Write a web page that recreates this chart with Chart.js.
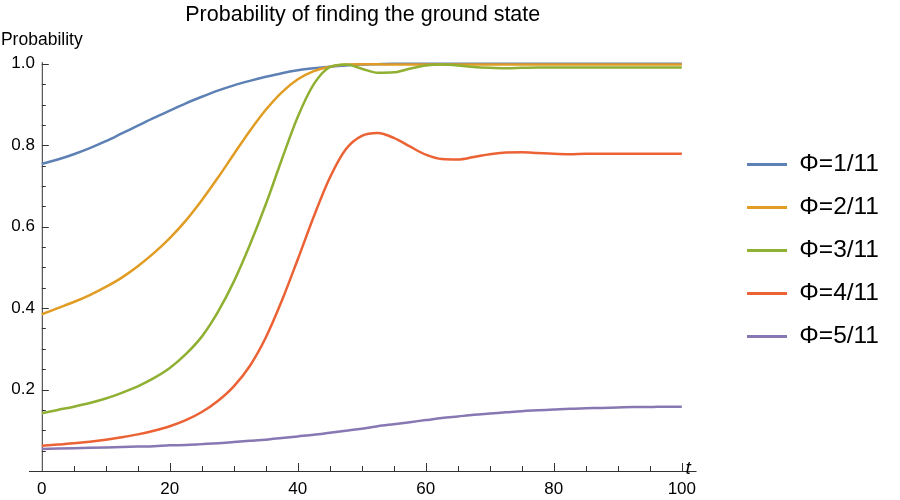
<!DOCTYPE html>
<html>
<head>
<meta charset="utf-8">
<script src="https://cdn.jsdelivr.net/npm/chart.js@4.4.0/dist/chart.umd.min.js"></script>
<style>
  html, body { margin: 0; padding: 0; background: #fff; }
  #wrap { width: 900px; height: 500px; }
</style>
</head>
<body>
<div id="wrap"><canvas id="myChart" width="900" height="500"></canvas></div>
<script>
// time grid (t) shared by all curves
const times = [0, 2.5, 5, 7.5, 10, 12.5, 15, 17.5, 20, 22.5, 25, 27.5, 30, 32.5, 35, 37.5, 40,
    42.5, 45, 47.5, 50, 52.5, 55, 57.5, 60, 62.5, 65, 67.5, 70, 72.5, 75, 77.5, 80,
    82.5, 85, 87.5, 90, 92.5, 95, 97.5, 100];

const labels = ['Φ=1/11', 'Φ=2/11', 'Φ=3/11', 'Φ=4/11', 'Φ=5/11'];

const phi1 = [0.754, 0.765, 0.778, 0.793, 0.810, 0.829, 0.848, 0.867, 0.885, 0.903, 0.919,
    0.934, 0.947, 0.958, 0.968, 0.977, 0.984, 0.989, 0.993, 0.996, 0.998, 0.999,
    1.0, 1.0, 1.0, 1.0, 1.0, 1.0, 1.0, 1.0, 1.0, 1.0, 1.0, 1.0, 1.0, 1.0, 1.0, 1.0, 1.0, 1.0, 1.0];
const phi2 = [0.385, 0.400, 0.415, 0.432, 0.452, 0.475, 0.503, 0.535, 0.572, 0.615, 0.665,
    0.720, 0.778, 0.835, 0.887, 0.930, 0.962, 0.982, 0.993, 0.998, 0.999,
    0.999, 0.998, 0.998, 0.998, 0.998, 0.998, 0.998, 0.998, 0.998, 0.998, 0.998, 0.998,
    0.998, 0.998, 0.998, 0.998, 0.998, 0.998, 0.998, 0.998];
const phi3 = [0.142, 0.150, 0.158, 0.167, 0.178, 0.192, 0.208, 0.228, 0.253, 0.287, 0.330,
    0.390, 0.465, 0.555, 0.655, 0.765, 0.870, 0.950, 0.992, 0.998, 0.988, 0.978, 0.979,
    0.988, 0.996, 0.998, 0.996, 0.992, 0.990, 0.989, 0.990, 0.991, 0.991, 0.991, 0.991,
    0.991, 0.991, 0.991, 0.991, 0.991, 0.991];
const phi4 = [0.062, 0.065, 0.068, 0.072, 0.077, 0.083, 0.090, 0.099, 0.110, 0.125, 0.145,
    0.172, 0.208, 0.258, 0.328, 0.418, 0.520, 0.625, 0.720, 0.790, 0.823, 0.830, 0.818,
    0.797, 0.777, 0.766, 0.765, 0.771, 0.778, 0.782, 0.783, 0.781, 0.779, 0.778, 0.779,
    0.779, 0.779, 0.779, 0.779, 0.779, 0.779];
const phi5 = [0.054, 0.055, 0.056, 0.057, 0.058, 0.059, 0.060, 0.061, 0.063, 0.064, 0.066,
    0.068, 0.071, 0.074, 0.077, 0.081, 0.085, 0.089, 0.094, 0.099, 0.104, 0.110, 0.115,
    0.120, 0.125, 0.130, 0.134, 0.138, 0.141, 0.144, 0.147, 0.149, 0.151, 0.153, 0.154,
    0.155, 0.156, 0.157, 0.157, 0.158, 0.158];

const xTickLabels = [0, 20, 40, 60, 80, 100];
const yTickLabels = [0.2, 0.4, 0.6, 0.8, 1.0];

const colors = ['#5E81B5', '#E19C24', '#8FB032', '#EB6235', '#8778B3'];
const fontFamily = '"Liberation Sans", Arial, sans-serif';
const axisColor = '#333';

const series = [phi1, phi2, phi3, phi4, phi5];

// Mathematica-like axes: lines through the origin, ticks pointing inward
const mmaAxes = {
    id: 'mmaAxes',
    afterLayout(chart) {
        // push the legend a bit further right and down
        chart.legend.left += 32;
        chart.legend.right += 32;
        chart.legend.top += 15;
        chart.legend.bottom += 15;
    },
    beforeDatasetsDraw(chart) {
        const { ctx, scales: { x, y } } = chart;
        const x0 = x.getPixelForValue(0);
        const y0 = y.getPixelForValue(0);
        ctx.save();
        ctx.strokeStyle = axisColor;
        ctx.lineWidth = 1;
        ctx.beginPath();
        ctx.moveTo(x.getPixelForValue(-2), y0 + 0.5);
        ctx.lineTo(x.getPixelForValue(102.3), y0 + 0.5);
        ctx.moveTo(x0 + 0.5, y0);
        ctx.lineTo(x0 + 0.5, y.getPixelForValue(1.004));
        for (let v = 5; v <= 100; v += 5) {
            const px = Math.round(x.getPixelForValue(v)) + 0.5;
            const len = v % 20 === 0 ? 8 : 5;
            ctx.moveTo(px, y0);
            ctx.lineTo(px, y0 - len);
        }
        for (let k = 1; k <= 20; k++) {
            const v = k * 0.05;
            const py = Math.round(y.getPixelForValue(v)) + 0.5;
            const len = k % 4 === 0 ? 7 : 4;
            ctx.moveTo(x0, py);
            ctx.lineTo(x0 + len, py);
        }
        ctx.stroke();
        ctx.restore();
    },
    afterDraw(chart) {
        const { ctx, scales: { x, y } } = chart;
        ctx.save();
        ctx.fillStyle = '#000';
        ctx.font = '17.5px ' + fontFamily;
        ctx.textAlign = 'center';
        ctx.textBaseline = 'middle';
        ctx.fillText('Probability', x.getPixelForValue(0), y.getPixelForValue(1) - 24);
        ctx.font = 'italic 19px ' + fontFamily;
        ctx.fillText('t', x.getPixelForValue(101), y.getPixelForValue(0) - 2);
        ctx.restore();
    }
};

const chart = new Chart(document.getElementById('myChart'), {
    type: 'line',
    data: {
        datasets: series.map((vals, i) => ({
            label: labels[i],
            data: times.map((t, j) => ({ x: t, y: vals[j] })),
            borderColor: colors[i],
            backgroundColor: colors[i],
            borderWidth: 2.5,
            pointRadius: 0,
            cubicInterpolationMode: 'monotone',
            fill: false,
            clip: 6,
            order: series.length - i
        }))
    },
    options: {
        responsive: false,
        animation: false,
        layout: { padding: { left: 29, right: 43, top: 0, bottom: 29 } },
        plugins: {
            tooltip: { enabled: false },
            title: {
                display: true,
                text: 'Probability of finding the ground state',
                fullSize: false,
                color: '#000',
                font: { family: fontFamily, size: 21.5, weight: 'normal' },
                padding: { top: 2, bottom: 36 }
            },
            legend: {
                position: 'right',
                labels: {
                    color: '#000',
                    font: { family: fontFamily, size: 24.5 },
                    boxWidth: 40,
                    boxHeight: 3,
                    padding: 18.5,
                    generateLabels: (c) => c.data.datasets.map((ds, i) => ({
                        text: ds.label,
                        fillStyle: ds.borderColor,
                        strokeStyle: ds.borderColor,
                        lineWidth: 0,
                        hidden: false,
                        datasetIndex: i,
                        fontColor: '#000'
                    }))
                }
            }
        },
        scales: {
            x: {
                type: 'linear',
                position: { y: 0 },
                min: -2,
                max: 102.3,
                grid: { display: false },
                border: { display: false },
                afterBuildTicks: (s) => { s.ticks = xTickLabels.map(v => ({ value: v })); },
                ticks: {
                    color: '#000',
                    font: { family: fontFamily, size: 17 },
                    padding: 0,
                    maxRotation: 0,
                    autoSkip: false,
                    callback: (v) => String(v)
                }
            },
            y: {
                type: 'linear',
                position: { x: 0 },
                min: 0,
                max: 1.0,
                grid: { display: false },
                border: { display: false },
                afterBuildTicks: (s) => { s.ticks = yTickLabels.map(v => ({ value: v })); },
                ticks: {
                    color: '#000',
                    font: { family: fontFamily, size: 17 },
                    autoSkip: false,
                    // labels sit right-aligned on the axis, thin spaces keep a small gap
                    callback: (v) => v.toFixed(1) + '\u2009\u2009'
                }
            }
        }
    },
    plugins: [mmaAxes]
});
</script>
</body>
</html>
